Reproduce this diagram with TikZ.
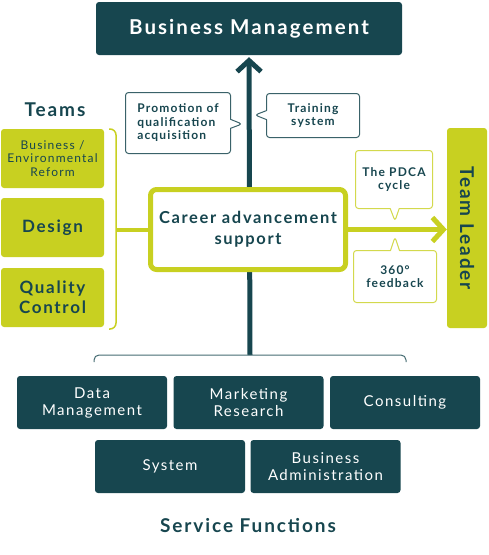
\documentclass[tikz,border=0pt]{standalone}
\usepackage{fontspec}
\setmainfont{Lato}[LetterSpace=10]
\usetikzlibrary{arrows.meta,shapes.callouts,backgrounds}
\definecolor{deepteal}{HTML}{17464F}
\definecolor{limey}{HTML}{C8D021}
\begin{document}
\begin{tikzpicture}[x=1pt,y=-1pt, line join=round,
    darkbox/.style={fill=deepteal,text=white,rounded corners=3pt,align=center,inner sep=0pt,minimum width=150pt,minimum height=53pt,font=\fontsize{15}{17}\selectfont},
    limebox/.style={fill=limey,text=deepteal,rounded corners=3pt,align=center,inner sep=0pt,minimum width=103pt,minimum height=59pt},
    bubble/.style={rectangle callout,draw,fill=white,rounded corners=3pt,text=deepteal,inner sep=0pt,line width=1pt,callout pointer width=9pt,font=\bfseries\fontsize{12}{13.5}\selectfont},
    title/.style={text=deepteal,font=\bfseries\fontsize{19}{21}\selectfont}]
    \useasboundingbox (0,0) rectangle (488,555);
    \node[darkbox,minimum width=306pt,font=\bfseries\fontsize{20.5}{22}\selectfont] (bm) at (249,28.5) {Business Management};
    \node[title] (teams) at (55,110) {Teams};
    \node[limebox,font=\fontsize{12}{13.5}\selectfont] (ber) at (52.5,158.5) {Business /\\Environmental\\Reform};
    \node[limebox,font=\bfseries\fontsize{17}{20}\selectfont] (des) at (52.5,227.5) {Design};
    \node[limebox,font=\bfseries\fontsize{17}{20}\selectfont] (qc) at (52.5,297.5) {Quality\\Control};
    \node[draw=limey,line width=5pt,fill=white,rounded corners=6pt,minimum width=195pt,minimum height=80pt,align=center,text=deepteal,font=\bfseries\fontsize{16.5}{21}\selectfont] (cas) at (248,229.5) {Career advancement\\support};
    \node[limebox,rotate=-90,minimum width=200pt,minimum height=40pt,font=\bfseries\fontsize{19}{21}\selectfont] (tl) at (467,228) {Team Leader};
    \node[bubble,draw=deepteal!85,align=left,minimum width=105pt,minimum height=61pt,callout absolute pointer={(242,124)}] (poq) at (178,123) {Promotion of\\qualification\\acquisition};
    \node[bubble,draw=deepteal!85,align=center,minimum width=93pt,minimum height=44pt,callout absolute pointer={(255,115)}] (ts) at (313,115.5) {Training\\system};
    \node[bubble,draw=limey!80,align=center,minimum width=77pt,minimum height=58pt,callout absolute pointer={(395,221)}] (pdca) at (394,179.5) {The PDCA\\cycle};
    \node[bubble,draw=limey!80,align=center,minimum width=83pt,minimum height=52pt,callout absolute pointer={(395,237)}] (fb) at (395,276.5) {360°\\feedback};
    \node[darkbox] (dm) at (92,402.5) {Data\\Management};
    \node[darkbox] (mr) at (248.5,402.5) {Marketing\\Research};
    \node[darkbox] (con) at (405,402.5) {Consulting};
    \node[darkbox] (sys) at (170,466.5) {System};
    \node[darkbox] (ba) at (325.5,466.5) {Business\\Administration};
    \node[title] (sf) at (248,526) {Service Functions};
    \coordinate (tb) at (116,229.5);
    \coordinate (sb) at (250,355);
    \draw[limey,line width=1.5pt,rounded corners=6pt] (109,129) -- (116,129) -- (116,329) -- (109,329);
    \draw[deepteal!80,line width=1pt,rounded corners=5pt] (94,362) -- (94,355) -- (406,355) -- (406,362);
    \draw[limey,line width=4pt] (tb) -- (cas.west);
    \draw[limey,line width=5pt,-{Straight Barb[length=11pt,width=24pt]}] (cas.east) -- (cas.east -| tl.south);
    \begin{scope}[on background layer]
        \draw[deepteal,line width=5pt,shorten >=2pt,-{Straight Barb[length=11pt,width=24pt]}] (sb) -- (bm.south);
    \end{scope}
\end{tikzpicture}
\end{document}
